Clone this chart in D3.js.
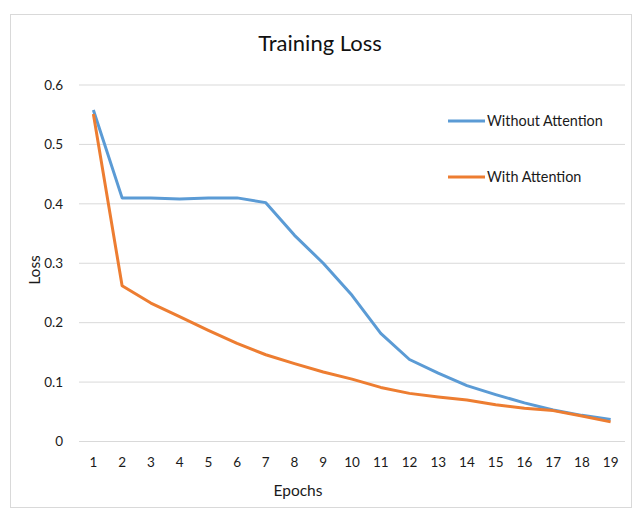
<!DOCTYPE html>
<html>
<head>
<meta charset="utf-8">
<script src="https://cdn.jsdelivr.net/npm/d3@7"></script>
<style>
  body { margin: 0; background: #fff; }
  text { font-family: Lato, "Open Sans", sans-serif; }
</style>
</head>
<body>
<svg id="chart" width="641" height="517"></svg>
<script>
var epochs = [1, 2, 3, 4, 5, 6, 7, 8, 9, 10, 11, 12, 13, 14, 15, 16, 17, 18, 19];
var withoutAttention = [0.558, 0.41, 0.41, 0.408, 0.41, 0.41, 0.402, 0.347, 0.30, 0.246,
    0.182, 0.138, 0.115, 0.094, 0.079, 0.065, 0.053, 0.044, 0.037];
var withAttention = [0.551, 0.262, 0.233, 0.21, 0.187, 0.165, 0.146, 0.131, 0.117, 0.105,
    0.091, 0.081, 0.075, 0.07, 0.062, 0.056, 0.052, 0.043, 0.033];
var yTicks = [0, 0.1, 0.2, 0.3, 0.4, 0.5, 0.6];
var seriesNames = ["Without Attention", "With Attention"];
var colors = ["#5b9bd5", "#ed7d31"];

var svg = d3.select("#chart"),
    margin = {top: 85, right: 16, bottom: 75.5, left: 79},
    width = +svg.attr("width"),
    height = +svg.attr("height");

// chart frame
svg.append("rect")
    .attr("x", 10.5).attr("y", 14.5)
    .attr("width", 621).attr("height", 493)
    .attr("fill", "#fff").attr("stroke", "#d9d9d9");

var x = d3.scaleBand()
    .domain(epochs)
    .range([margin.left, width - margin.right]);

var y = d3.scaleLinear()
    .domain([0, 0.6])
    .range([height - margin.bottom, margin.top]);

// gridlines
svg.append("g")
  .selectAll("line")
  .data(yTicks)
  .enter().append("line")
    .attr("x1", margin.left)
    .attr("x2", width - margin.right)
    .attr("y1", function(d) { return y(d); })
    .attr("y2", function(d) { return y(d); })
    .attr("stroke", "#d9d9d9")
    .attr("stroke-width", 1);

var yAxis = svg.append("g")
    .attr("transform", "translate(" + (margin.left - 16) + ",0)")
    .call(d3.axisLeft(y).tickValues(yTicks).tickSize(0).tickPadding(0)
        .tickFormat(function(d) { return d === 0 ? "0" : d3.format(".1f")(d); }));
yAxis.select(".domain").remove();
yAxis.selectAll("text").attr("font-size", 13.5).attr("fill", "#1a1a1a")
    .attr("font-family", "Lato, 'Open Sans', sans-serif");

var xAxis = svg.append("g")
    .attr("transform", "translate(0," + (height - margin.bottom + 12) + ")")
    .call(d3.axisBottom(x).tickSize(0).tickPadding(4));
xAxis.select(".domain").remove();
xAxis.selectAll("text").attr("font-size", 13.5).attr("fill", "#1a1a1a")
    .attr("font-family", "Lato, 'Open Sans', sans-serif");

var line = d3.line()
    .x(function(d, i) { return x(epochs[i]) + x.bandwidth() / 2; })
    .y(function(d) { return y(d); });

[withoutAttention, withAttention].forEach(function(s, i) {
  svg.append("path")
      .datum(s)
      .attr("fill", "none")
      .attr("stroke", colors[i])
      .attr("stroke-width", 3)
      .attr("stroke-linejoin", "round")
      .attr("d", line);
});

// title
svg.append("text")
    .attr("x", 320).attr("y", 51)
    .attr("text-anchor", "middle")
    .attr("font-size", 22)
    .attr("fill", "#111")
    .text("Training Loss");

// axis titles
svg.append("text")
    .attr("transform", "translate(40,270) rotate(-90)")
    .attr("text-anchor", "middle")
    .attr("font-size", 15.5)
    .attr("fill", "#1a1a1a")
    .text("Loss");

svg.append("text")
    .attr("x", 298).attr("y", 496)
    .attr("text-anchor", "middle")
    .attr("font-size", 15.5)
    .attr("fill", "#1a1a1a")
    .text("Epochs");

// legend
var legend = svg.append("g")
  .selectAll("g")
  .data(seriesNames)
  .enter().append("g")
    .attr("transform", function(d, i) { return "translate(448," + (121 + i * 56) + ")"; });

legend.append("line")
    .attr("x1", 0).attr("x2", 37)
    .attr("stroke", function(d, i) { return colors[i]; })
    .attr("stroke-width", 3);

legend.append("text")
    .attr("x", 39).attr("y", 5)
    .attr("font-size", 14.4)
    .attr("fill", "#1a1a1a")
    .text(function(d) { return d; });
</script>
</body>
</html>
